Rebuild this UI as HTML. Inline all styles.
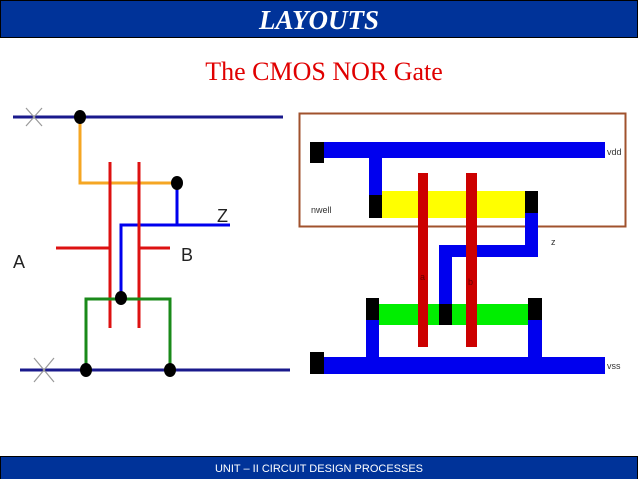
<!DOCTYPE html>
<html><head><meta charset="utf-8"><style>
html,body{margin:0;padding:0;background:#fff;width:638px;height:479px;overflow:hidden}
</style></head><body>
<svg width="638" height="479" xmlns="http://www.w3.org/2000/svg" style="display:block">
<rect x="0.5" y="0.5" width="637" height="37" fill="#003399" stroke="#000" stroke-width="1"/>
<text x="319" y="29" text-anchor="middle" font-family="Liberation Serif, serif" font-style="italic" font-weight="bold" font-size="27" fill="#fff">LAYOUTS</text>
<text x="324" y="80" text-anchor="middle" font-family="Liberation Serif, serif" font-size="26" fill="#e00000">The CMOS NOR Gate</text>
<rect x="0.5" y="456.5" width="637" height="23" fill="#003399" stroke="#000" stroke-width="1"/>
<text x="319" y="472" text-anchor="middle" font-family="Liberation Sans, sans-serif" font-size="11" fill="#fff">UNIT – II CIRCUIT DESIGN PROCESSES</text>

<!-- left schematic -->
<g fill="none" stroke-width="3">
<line x1="13" y1="117" x2="283" y2="117" stroke="#1a1a8c"/>
<line x1="20" y1="370" x2="290" y2="370" stroke="#1a1a8c"/>
<polyline points="80,117 80,183 177,183" stroke="#f5a623"/>
<polyline points="177,183 177,225" stroke="#0000ee"/>
<polyline points="230,225 121,225 121,298" stroke="#0000ee"/>
<line x1="110" y1="162" x2="110" y2="328" stroke="#dd1111"/>
<line x1="139" y1="162" x2="139" y2="328" stroke="#dd1111"/>
<line x1="56" y1="248" x2="110" y2="248" stroke="#dd1111"/>
<line x1="139" y1="248" x2="170" y2="248" stroke="#dd1111"/>
<polyline points="86,370 86,299 170,299 170,370" stroke="#1a8a1a"/>
</g>
<g stroke="#999" stroke-width="1.2">
<line x1="26" y1="108" x2="42" y2="126"/><line x1="42" y1="108" x2="26" y2="126"/>
<line x1="34" y1="358" x2="54" y2="382"/><line x1="54" y1="358" x2="34" y2="382"/>
</g>
<g fill="#000">
<ellipse cx="80" cy="117" rx="6" ry="7"/>
<ellipse cx="177" cy="183" rx="6" ry="7"/>
<ellipse cx="121" cy="298" rx="6" ry="7"/>
<ellipse cx="86" cy="370" rx="6" ry="7"/>
<ellipse cx="170" cy="370" rx="6" ry="7"/>
</g>
<g font-family="Liberation Sans, sans-serif" font-size="18" fill="#222">
<text x="13" y="268">A</text>
<text x="181" y="261">B</text>
<text x="217" y="222">Z</text>
</g>

<!-- right layout -->
<rect x="299.5" y="113.5" width="326" height="113" fill="none" stroke="#a0522d" stroke-width="2"/>
<g fill="#0000ee">
<rect x="310" y="142" width="295" height="16"/>
<rect x="369" y="142" width="13" height="60"/>
<rect x="525" y="205" width="13" height="52"/>
<rect x="439" y="245" width="99" height="12"/>
<rect x="439" y="245" width="13" height="65"/>
<rect x="366" y="315" width="13" height="50"/>
<rect x="528" y="315" width="14" height="50"/>
<rect x="310" y="357" width="295" height="17"/>
</g>
<rect x="382" y="191" width="143" height="27" fill="#ffff00"/>
<rect x="379" y="304" width="149" height="21" fill="#00ee00"/>
<rect x="418" y="173" width="10" height="174" fill="#cc0000"/>
<rect x="466" y="173" width="11" height="174" fill="#cc0000"/>
<g fill="#000">
<rect x="310" y="142" width="14" height="21"/>
<rect x="369" y="195" width="13" height="23"/>
<rect x="525" y="191" width="13" height="22"/>
<rect x="366" y="298" width="13" height="22"/>
<rect x="439" y="304" width="13" height="21"/>
<rect x="528" y="298" width="14" height="22"/>
<rect x="310" y="352" width="14" height="22"/>
</g>
<g font-family="Liberation Sans, sans-serif" font-size="9" fill="#333">
<text x="607" y="155">vdd</text>
<text x="607" y="369">vss</text>
<text x="311" y="213">nwell</text>
<text x="551" y="245">z</text>
<text x="420" y="280" fill="#660000">a</text>
<text x="468" y="285" fill="#660000">b</text>
</g>
</svg>
</body></html>
